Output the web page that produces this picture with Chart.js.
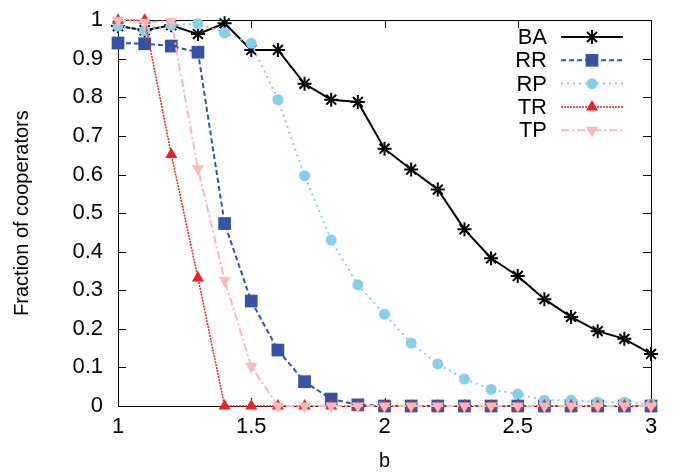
<!DOCTYPE html>
<html>
<head>
<meta charset="utf-8">
<script src="https://cdn.jsdelivr.net/npm/chart.js"></script>
<style>
  html, body { margin: 0; padding: 0; background: #fff; }
  #wrap { width: 674px; height: 474px; }
</style>
</head>
<body>
<div id="wrap"><canvas id="coopChart" width="674" height="474"></canvas></div>
<script>
// Temptation values b
const bValues = [1.0, 1.1, 1.2, 1.3, 1.4, 1.5, 1.6, 1.7, 1.8, 1.9, 2.0,
                 2.1, 2.2, 2.3, 2.4, 2.5, 2.6, 2.7, 2.8, 2.9, 3.0];

// Fraction of cooperators per network type
const baValues = [0.985, 0.974, 0.987, 0.964, 0.992, 0.923, 0.923, 0.835, 0.794, 0.788, 0.667,
                  0.613, 0.561, 0.458, 0.383, 0.337, 0.277, 0.231, 0.194, 0.174, 0.135];
const rrValues = [0.941, 0.939, 0.933, 0.917, 0.473, 0.272, 0.145, 0.063, 0.018, 0.003, 0.0,
                  0.0, 0.0, 0.0, 0.0, 0.0, 0.0, 0.0, 0.0, 0.0, 0.0];
const rpValues = [0.985, 0.973, 0.987, 0.991, 0.967, 0.940, 0.794, 0.597, 0.430, 0.314, 0.238,
                  0.163, 0.109, 0.070, 0.043, 0.031, 0.015, 0.015, 0.010, 0.010, 0.004];
const trValues = [1.0, 1.0, 0.652, 0.332, 0.0, 0.0, 0.0, 0.0, 0.0, 0.0, 0.0,
                  0.0, 0.0, 0.0, 0.0, 0.0, 0.0, 0.0, 0.0, 0.0, 0.0];
const tpValues = [1.0, 0.995, 0.997, 0.615, 0.326, 0.103, 0.0, 0.0, 0.0, 0.0, 0.0,
                  0.0, 0.0, 0.0, 0.0, 0.0, 0.0, 0.0, 0.0, 0.0, 0.0];

const seriesLabels = ['BA', 'RR', 'RP', 'TR', 'TP'];
const xTickValues = [1, 1.5, 2, 2.5, 3];
const yTickValues = [0, 0.1, 0.2, 0.3, 0.4, 0.5, 0.6, 0.7, 0.8, 0.9, 1];

const FONT = '"Liberation Sans", Arial, Helvetica, sans-serif';

function toPoints(ys) {
    return bValues.map((b, i) => ({ x: b, y: ys[i] }));
}

// Line / marker style for each series
const styles = [
    { color: '#000000', dash: [], point: 'star', radius: 7, rotation: 0, width: 2 },
    { color: '#3552a6', dash: [5, 3], point: 'rect', radius: 9, rotation: 0, width: 2 },
    { color: '#87ceeb', dash: [2, 4], point: 'circle', radius: 5.5, rotation: 0, width: 2 },
    { color: '#ee2222', dash: [2, 1], point: 'triangle', radius: 7, rotation: 0, width: 1.5 },
    { color: '#f7b9b9', dash: [8, 3, 2, 3], point: 'triangle', radius: 7, rotation: 180, width: 2 }
];

const seriesValues = [baValues, rrValues, rpValues, trValues, tpValues];

const datasets = seriesLabels.map((label, i) => ({
    label: label,
    data: toPoints(seriesValues[i]),
    borderColor: styles[i].color,
    backgroundColor: styles[i].color,
    borderWidth: styles[i].width,
    borderDash: styles[i].dash,
    pointStyle: styles[i].point,
    pointRadius: styles[i].radius,
    pointRotation: styles[i].rotation,
    pointBorderWidth: i === 0 ? 2 : 0,
    pointBorderColor: styles[i].color,
    pointBackgroundColor: styles[i].color,
    tension: 0,
    clip: false,
    order: seriesLabels.length - i   // later series drawn on top
}));

// Border box with inward tick marks on all four sides
const frameTicks = {
    id: 'frameTicks',
    beforeDatasetsDraw(chart) {
        const { ctx, chartArea: a, scales: { x, y } } = chart;
        const len = 8;
        ctx.save();
        ctx.strokeStyle = '#000';
        ctx.lineWidth = 1;
        ctx.beginPath();
        yTickValues.forEach(v => {
            const py = Math.round(y.getPixelForValue(v)) + 0.5;
            ctx.moveTo(a.left, py); ctx.lineTo(a.left + len, py);
            ctx.moveTo(a.right, py); ctx.lineTo(a.right - len, py);
        });
        xTickValues.forEach(v => {
            const px = Math.round(x.getPixelForValue(v)) + 0.5;
            ctx.moveTo(px, a.bottom); ctx.lineTo(px, a.bottom - len);
            ctx.moveTo(px, a.top); ctx.lineTo(px, a.top + len);
        });
        ctx.stroke();
        ctx.strokeRect(Math.round(a.left) + 0.5, Math.round(a.top) + 0.5,
                       Math.round(a.right - a.left), Math.round(a.bottom - a.top));
        ctx.restore();
    }
};

// Key in the upper right: label text, then a line sample with its marker
const keyLegend = {
    id: 'keyLegend',
    afterDraw(chart) {
        const { ctx } = chart;
        const textRight = 547;
        const lineStart = 561;
        const lineEnd = 623;
        const top = 37;
        const step = 23.3;
        ctx.save();
        chart.data.datasets.forEach((ds, i) => {
            const yy = top + i * step;
            ctx.fillStyle = '#000';
            ctx.font = '22px ' + FONT;
            ctx.textAlign = 'right';
            ctx.textBaseline = 'middle';
            ctx.fillText(ds.label, textRight, yy + 1);
            ctx.strokeStyle = ds.borderColor;
            ctx.lineWidth = ds.borderWidth;
            ctx.setLineDash(ds.borderDash);
            ctx.beginPath();
            ctx.moveTo(lineStart, yy);
            ctx.lineTo(lineEnd, yy);
            ctx.stroke();
            ctx.setLineDash([]);
            ctx.fillStyle = ds.pointBackgroundColor;
            ctx.strokeStyle = ds.pointBorderColor;
            ctx.lineWidth = ds.pointBorderWidth || 0.01;
            Chart.helpers.drawPoint(ctx, {
                pointStyle: ds.pointStyle,
                radius: ds.pointRadius,
                rotation: ds.pointRotation,
                borderWidth: ds.pointBorderWidth
            }, (lineStart + lineEnd) / 2, yy);
        });
        ctx.restore();
    }
};

new Chart(document.getElementById('coopChart'), {
    type: 'line',
    data: { datasets: datasets },
    options: {
        responsive: false,
        animation: false,
        devicePixelRatio: 1,
        layout: { padding: { top: 19, right: 23, left: 0, bottom: 0 } },
        plugins: {
            legend: { display: false },
            tooltip: { enabled: false }
        },
        scales: {
            x: {
                type: 'linear',
                min: 1,
                max: 3,
                border: { display: false },
                grid: { display: false },
                afterBuildTicks: (scale) => { scale.ticks = xTickValues.map(v => ({ value: v })); },
                afterFit: (scale) => { scale.height = 68; },
                ticks: {
                    autoSkip: false,
                    maxRotation: 0,
                    padding: 0,
                    color: '#000',
                    font: { family: FONT, size: 22 },
                    callback: (v) => String(v)
                },
                title: {
                    display: true,
                    text: 'b',
                    color: '#000',
                    font: { family: FONT, size: 20 },
                    padding: { top: 0, bottom: 1 }
                }
            },
            y: {
                type: 'linear',
                min: 0,
                max: 1,
                border: { display: false },
                grid: { display: false },
                afterBuildTicks: (scale) => { scale.ticks = yTickValues.map(v => ({ value: v })); },
                afterFit: (scale) => { scale.width = 118; },
                ticks: {
                    autoSkip: false,
                    padding: 7,
                    color: '#000',
                    font: { family: FONT, size: 22 },
                    callback: (v) => String(Math.round(v * 10) / 10)
                },
                title: {
                    display: true,
                    text: 'Fraction of cooperators',
                    color: '#000',
                    font: { family: FONT, size: 20 },
                    padding: { top: 10, bottom: 0 }
                }
            }
        }
    },
    plugins: [frameTicks, keyLegend]
});
</script>
</body>
</html>
